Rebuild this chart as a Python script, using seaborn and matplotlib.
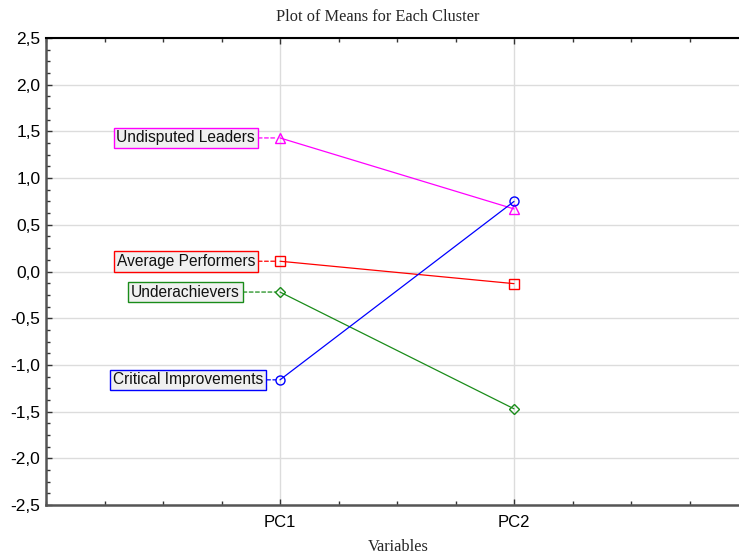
import matplotlib
matplotlib.use("Agg")
import matplotlib.pyplot as plt
from matplotlib.ticker import FuncFormatter, MultipleLocator
import seaborn as sns
import pandas as pd

variables = ["PC1", "PC2"]
clusters = ["Undisputed Leaders", "Average Performers", "Underachievers", "Critical Improvements"]
undisputed_leaders = [1.43, 0.67]
average_performers = [0.11, -0.13]
underachievers = [-0.22, -1.47]
critical_improvements = [-1.16, 0.75]

colors = {"Undisputed Leaders": "#ff00ff", "Average Performers": "#ff0000",
          "Underachievers": "#1a8c1a", "Critical Improvements": "#0000ff"}
markers = {"Undisputed Leaders": "^", "Average Performers": "s",
           "Underachievers": "D", "Critical Improvements": "o"}
marker_size = {"Undisputed Leaders": 6.5, "Average Performers": 6.5,
               "Underachievers": 5, "Critical Improvements": 6.5}
label_gap = {"Undisputed Leaders": 18, "Average Performers": 18,
             "Underachievers": 29, "Critical Improvements": 12}

rows = []
for name, vals in zip(clusters, [undisputed_leaders, average_performers,
                                 underachievers, critical_improvements]):
    for v, val in zip(variables, vals):
        rows.append({"Variable": v, "Mean": val, "Cluster": name})
df = pd.DataFrame(rows)

sns.set_style("white")
plt.rcParams["font.family"] = ["Liberation Sans", "DejaVu Sans"]

fig = plt.figure(figsize=(7.39, 5.55), dpi=100)
ax = fig.add_axes([46 / 739, 1 - 505 / 555, (748 - 46) / 739, (505 - 38) / 555])

sns.lineplot(data=df, x="Variable", y="Mean", hue="Cluster", style="Cluster",
             palette=colors, markers=markers, dashes=False, ax=ax,
             linewidth=0.9, markersize=6, markerfacecolor="none",
             markeredgewidth=1.0, legend=False, sort=False)
for line, name in zip(ax.lines, clusters):
    line.set_markeredgecolor(colors[name])
    line.set_markerfacecolor("none")
    line.set_markersize(marker_size[name])

ax.set_xlim(-1, 2)
ax.set_ylim(-2.5, 2.5)
ax.set_xticks([0, 1])
ax.set_xticklabels(variables)
ax.xaxis.set_minor_locator(MultipleLocator(0.25))
ax.yaxis.set_major_locator(MultipleLocator(0.5))
ax.yaxis.set_minor_locator(MultipleLocator(0.125))
ax.yaxis.set_major_formatter(FuncFormatter(lambda v, p: f"{v:.1f}".replace(".", ",")))

ax.grid(True, which="major", color="#dcdcdc", linewidth=1.0)
ax.set_axisbelow(True)

ax.tick_params(axis="both", which="both", direction="in", colors="#333333",
               top=True, bottom=True, left=True, right=False)
ax.tick_params(axis="both", which="major", length=4, width=1)
ax.tick_params(axis="both", which="minor", length=3, width=1)
ax.tick_params(axis="y", labelsize=12.5, labelcolor="black", pad=4)
ax.tick_params(axis="x", labelsize=12, labelcolor="black", pad=7)

for side in ["left", "bottom"]:
    ax.spines[side].set_color("#555555")
    ax.spines[side].set_linewidth(1.8)
ax.spines["top"].set_color("black")
ax.spines["top"].set_linewidth(1.5)
ax.spines["right"].set_visible(False)

ax.set_xlabel("")
ax.set_ylabel("")
fig.text(378 / 739, 1 - 17 / 555, "Plot of Means for Each Cluster",
         family="Liberation Serif", fontsize=11.8, ha="center", va="center")
fig.text(398 / 739, 1 - 547 / 555, "Variables",
         family="Liberation Serif", fontsize=11.8, ha="center", va="center")

for name, vals in zip(clusters, [undisputed_leaders, average_performers,
                                 underachievers, critical_improvements]):
    ax.annotate(name, xy=(0, vals[0]), xytext=(-label_gap[name], 0),
                textcoords="offset points", ha="right", va="center",
                fontsize=11.2, color="#111111",
                bbox=dict(boxstyle="square,pad=0.18", facecolor="#f0f0f0",
                          edgecolor=colors[name], linewidth=1.0),
                arrowprops=dict(arrowstyle="-", color=colors[name],
                                linestyle=(0, (3, 2)), linewidth=0.9,
                                shrinkA=0, shrinkB=3))

fig.savefig("out.png", dpi=100)
